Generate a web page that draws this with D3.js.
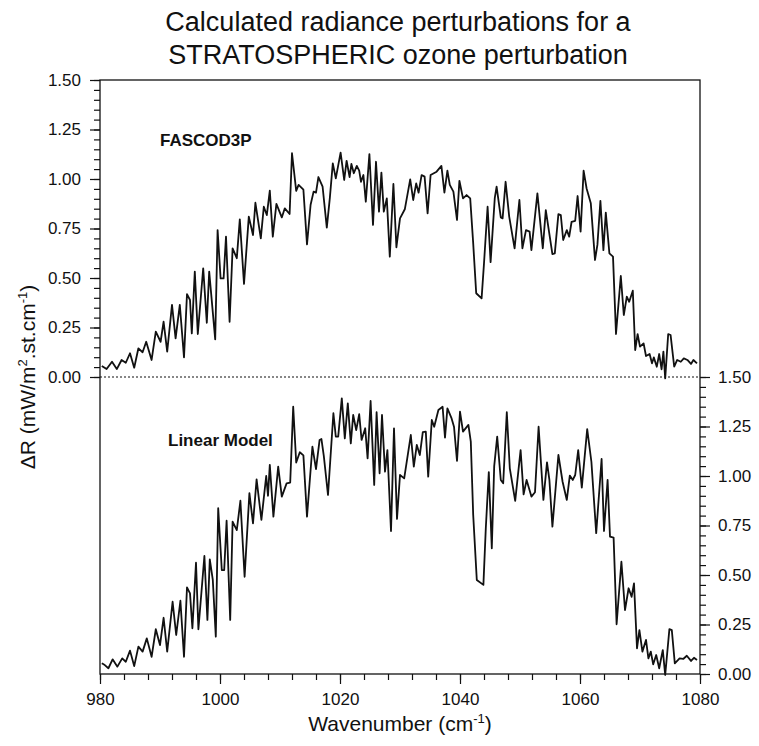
<!DOCTYPE html>
<html>
<head>
<meta charset="utf-8">
<script src="https://cdn.jsdelivr.net/npm/d3@7"></script>
<style>
  html, body { margin: 0; padding: 0; background: #fff; }
  svg { display: block; }
  text { font-family: "Liberation Sans", Arial, Helvetica, sans-serif; fill: #111; }
</style>
</head>
<body>
<svg id="chart" width="759" height="746"></svg>
<script>
// Wavenumber (cm-1) and radiance change ΔR for the FASCOD3P line-by-line result
const fascodWn = [
  980.3, 981.1, 982.0, 982.8, 983.6, 984.3, 985.0, 985.7, 986.4, 987.1,
  987.7, 988.6, 989.3, 990.1, 990.6, 991.2, 992.0, 992.6, 993.3, 994.0,
  994.5, 995.0, 995.3, 995.8, 996.3, 997.2, 997.8, 998.2, 999.2, 999.6,
  1000.1, 1000.6, 1001.0, 1001.6, 1002.1, 1002.8, 1003.3, 1004.0, 1004.8, 1005.5,
  1005.9, 1006.8, 1007.3, 1007.8, 1008.3, 1008.8, 1009.4, 1010.3, 1010.8, 1011.6,
  1012.0, 1012.7, 1013.1, 1013.9, 1014.5, 1015.1, 1015.6, 1016.0, 1016.4, 1017.1,
  1017.8, 1018.3, 1018.8, 1019.3, 1020.1, 1020.7, 1021.1, 1021.6, 1021.9, 1022.3,
  1022.8, 1023.2, 1023.5, 1023.9, 1024.3, 1024.9, 1025.5, 1026.0, 1026.5, 1026.9,
  1027.3, 1027.8, 1028.3, 1028.9, 1029.4, 1030.0, 1030.8, 1031.7, 1032.2, 1032.7,
  1033.1, 1033.6, 1034.1, 1034.6, 1035.1, 1036.1, 1036.9, 1037.4, 1037.9, 1038.3,
  1038.9, 1039.5, 1039.9, 1040.5, 1041.1, 1041.7, 1042.2, 1042.7, 1043.6, 1044.0,
  1044.6, 1045.1, 1045.8, 1046.1, 1046.8, 1047.1, 1047.6, 1048.2, 1049.1, 1049.9,
  1050.4, 1051.0, 1051.6, 1051.9, 1052.9, 1053.8, 1054.3, 1055.4, 1055.8, 1056.4,
  1056.8, 1057.2, 1057.8, 1058.2, 1058.6, 1059.2, 1059.6, 1060.1, 1060.6, 1061.1,
  1061.8, 1062.5, 1062.9, 1063.4, 1063.9, 1064.3, 1064.9, 1065.5, 1066.0, 1066.8,
  1067.3, 1067.8, 1068.2, 1068.8, 1069.2, 1069.6, 1070.0, 1070.6, 1071.0, 1071.6,
  1072.0, 1072.3, 1072.8, 1073.2, 1073.6, 1073.9, 1074.2, 1074.7, 1075.1, 1075.7,
  1076.2, 1076.8, 1077.3, 1077.9, 1078.5, 1078.9, 1079.5
];
const fascodDR = [
  0.056, 0.040, 0.077, 0.040, 0.086, 0.072, 0.120, 0.047, 0.145, 0.125,
  0.178, 0.086, 0.229, 0.178, 0.279, 0.128, 0.364, 0.195, 0.364, 0.099,
  0.419, 0.389, 0.220, 0.532, 0.217, 0.549, 0.274, 0.532, 0.190, 0.742,
  0.498, 0.498, 0.709, 0.279, 0.650, 0.600, 0.796, 0.470, 0.810, 0.717,
  0.880, 0.700, 0.860, 0.818, 0.941, 0.709, 0.874, 0.806, 0.852, 0.823,
  1.130, 0.940, 0.970, 0.946, 0.670, 0.870, 0.936, 0.931, 1.010, 0.961,
  0.754, 0.902, 1.079, 1.003, 1.133, 0.995, 1.092, 1.010, 1.076, 1.029,
  1.066, 1.042, 0.986, 1.020, 0.885, 1.126, 0.768, 1.087, 0.835, 1.032,
  0.835, 0.902, 0.608, 0.975, 0.655, 0.801, 0.847, 0.998, 0.894, 0.978,
  0.931, 1.020, 1.012, 0.826, 1.020, 1.037, 1.066, 0.931, 1.042, 0.970,
  0.936, 0.793, 0.991, 0.902, 0.919, 0.902, 0.675, 0.423, 0.397, 0.574,
  0.860, 0.580, 0.905, 0.961, 0.806, 0.801, 0.986, 0.810, 0.650, 0.894,
  0.650, 0.742, 0.734, 0.641, 0.927, 0.650, 0.843, 0.621, 0.624, 0.823,
  0.818, 0.692, 0.742, 0.709, 0.784, 0.789, 0.914, 0.734, 1.042, 0.952,
  0.877, 0.591, 0.667, 0.890, 0.641, 0.830, 0.624, 0.608, 0.217, 0.510,
  0.313, 0.406, 0.380, 0.436, 0.136, 0.217, 0.153, 0.170, 0.106, 0.116,
  0.069, 0.099, 0.052, 0.116, 0.039, 0.128, -0.007, 0.217, 0.212, 0.052,
  0.086, 0.077, 0.094, 0.086, 0.066, 0.086, 0.069
];

// Wavenumber (cm-1) and radiance change ΔR from the linear model
const linearWn = [
  980.3, 980.8, 981.4, 982.1, 982.9, 983.7, 984.3, 985.0, 985.7, 986.4,
  987.1, 987.8, 988.6, 989.3, 990.0, 990.6, 991.2, 992.1, 992.7, 993.4,
  994.0, 994.5, 995.0, 995.4, 996.0, 996.4, 997.4, 997.9, 998.3, 998.8,
  999.3, 999.7, 1000.3, 1000.7, 1001.1, 1001.7, 1002.1, 1002.8, 1003.4, 1004.1,
  1004.9, 1005.5, 1006.1, 1006.9, 1007.7, 1008.0, 1008.3, 1008.9, 1009.7, 1010.3,
  1011.1, 1011.7, 1012.2, 1012.7, 1013.3, 1013.9, 1014.5, 1015.4, 1016.0, 1016.6,
  1016.9, 1017.3, 1018.0, 1018.9, 1019.3, 1019.7, 1020.3, 1020.8, 1021.3, 1021.8,
  1022.2, 1022.7, 1023.2, 1023.6, 1024.2, 1024.6, 1025.1, 1025.7, 1026.1, 1026.6,
  1027.0, 1027.5, 1027.9, 1028.5, 1029.0, 1029.5, 1030.0, 1030.7, 1031.8, 1032.3,
  1032.8, 1033.3, 1033.8, 1034.3, 1034.7, 1035.3, 1035.7, 1036.4, 1037.1, 1037.5,
  1037.9, 1038.6, 1039.0, 1039.5, 1040.0, 1040.5, 1041.4, 1041.8, 1042.2, 1042.8,
  1043.9, 1044.3, 1044.8, 1045.3, 1045.7, 1046.2, 1046.8, 1047.2, 1047.8, 1048.3,
  1049.2, 1050.1, 1050.6, 1051.1, 1051.9, 1052.5, 1053.1, 1053.9, 1054.5, 1054.9,
  1055.4, 1056.4, 1057.1, 1057.8, 1058.3, 1058.8, 1059.2, 1059.7, 1060.3, 1061.2,
  1061.9, 1062.7, 1063.6, 1064.0, 1064.6, 1065.0, 1065.6, 1066.1, 1066.9, 1067.5,
  1068.1, 1068.6, 1069.0, 1069.5, 1069.9, 1070.4, 1071.0, 1071.4, 1071.8, 1072.2,
  1072.7, 1073.2, 1073.8, 1074.2, 1074.9, 1075.3, 1075.8, 1076.6, 1077.2, 1077.8,
  1078.5, 1079.0, 1079.5
];
const linearDR = [
  0.054, 0.045, 0.029, 0.074, 0.037, 0.079, 0.062, 0.118, 0.040, 0.138,
  0.113, 0.180, 0.087, 0.226, 0.146, 0.284, 0.113, 0.365, 0.197, 0.370,
  0.087, 0.438, 0.407, 0.231, 0.562, 0.226, 0.596, 0.273, 0.579, 0.475,
  0.189, 0.837, 0.525, 0.525, 0.774, 0.273, 0.769, 0.727, 0.875, 0.491,
  0.913, 0.761, 0.983, 0.778, 1.000, 0.900, 1.056, 0.795, 1.047, 0.896,
  0.963, 0.967, 1.350, 1.068, 1.120, 1.104, 0.795, 1.148, 1.035, 1.182,
  1.187, 1.102, 0.904, 1.317, 1.199, 1.199, 1.392, 1.190, 1.367, 1.165,
  1.308, 1.232, 1.312, 1.182, 1.241, 1.089, 1.379, 0.955, 1.322, 1.014,
  1.308, 1.022, 1.131, 0.722, 1.241, 0.783, 1.005, 0.988, 1.207, 1.047,
  1.157, 1.106, 1.221, 1.224, 0.997, 1.283, 1.249, 1.333, 1.350, 1.194,
  1.342, 1.291, 1.249, 1.076, 1.325, 1.224, 1.258, 1.173, 0.803, 0.475,
  0.450, 0.736, 1.020, 0.635, 1.050, 1.199, 0.980, 0.963, 1.322, 1.039,
  0.874, 1.131, 0.907, 0.980, 0.896, 0.918, 1.249, 0.879, 1.069, 0.980,
  0.744, 1.106, 0.971, 0.879, 1.002, 0.980, 1.005, 1.131, 0.941, 1.237,
  1.072, 0.711, 1.086, 0.722, 0.980, 0.694, 0.689, 0.251, 0.567, 0.323,
  0.433, 0.390, 0.458, 0.130, 0.222, 0.113, 0.172, 0.079, 0.113, 0.049,
  0.096, 0.029, 0.121, -0.005, 0.227, 0.222, 0.054, 0.079, 0.076, 0.092,
  0.066, 0.082, 0.071
];

// Axis tick values
const xMajorTicks = [980, 1000, 1020, 1040, 1060, 1080];
const yMajorTicks = [0, 0.25, 0.5, 0.75, 1.0, 1.25, 1.5];
const xDomain = [980, 1080];
const yDomain = [0, 1.5];

const titleLines = ["Calculated radiance perturbations for a", "STRATOSPHERIC ozone perturbation"];
const panelLabels = ["FASCOD3P", "Linear Model"];

const svg = d3.select("#chart");
const frame = { left: 100, right: 700, top: 80, mid: 377, bottom: 674 };

const x = d3.scaleLinear().domain(xDomain).range([frame.left, frame.right]);
const yTop = d3.scaleLinear().domain(yDomain).range([frame.mid, frame.top]);
const yBot = d3.scaleLinear().domain(yDomain).range([frame.bottom, frame.mid]);

const fmt = d3.format(".2f");
const yMinor = d3.range(0, 1.5001, 0.05);
const xMinor = d3.range(980, 1080.001, 4);

// Title
svg.append("text")
  .attr("text-anchor", "middle")
  .attr("font-size", 27)
  .selectAll("tspan").data(titleLines).join("tspan")
  .attr("x", 398).attr("y", (d, i) => 31 + i * 33)
  .text(d => d);

// Left axis (upper panel)
const gL = svg.append("g").attr("transform", `translate(${frame.left},0)`);
gL.append("g").call(d3.axisLeft(yTop).tickValues(yMinor).tickSize(6).tickFormat(""));
gL.append("g").call(d3.axisLeft(yTop).tickValues(yMajorTicks).tickSize(10).tickPadding(9).tickFormat(fmt));

// Right axis (lower panel)
const gR = svg.append("g").attr("transform", `translate(${frame.right},0)`);
gR.append("g").call(d3.axisRight(yBot).tickValues(yMinor).tickSize(6).tickFormat(""));
gR.append("g").call(d3.axisRight(yBot).tickValues(yMajorTicks).tickSize(10).tickPadding(8).tickFormat(fmt));

// Bottom axis
const gB = svg.append("g").attr("transform", `translate(0,${frame.bottom})`);
gB.append("g").call(d3.axisBottom(x).tickValues(xMinor).tickSize(6).tickFormat(""));
gB.append("g").call(d3.axisBottom(x).tickValues(xMajorTicks).tickSize(10).tickPadding(9).tickFormat(d3.format("d")));

svg.selectAll(".domain").remove();
svg.selectAll(".tick line").attr("stroke", "#111").attr("stroke-width", 1.2);
svg.selectAll(".tick text")
  .attr("font-family", "'Liberation Sans', Arial, sans-serif")
  .attr("font-size", 17).attr("fill", "#111");

// Frame
svg.append("rect")
  .attr("x", frame.left).attr("y", frame.top)
  .attr("width", frame.right - frame.left).attr("height", frame.bottom - frame.top)
  .attr("fill", "none").attr("stroke", "#111").attr("stroke-width", 1.3);

// Zero line of the upper panel
svg.append("line")
  .attr("x1", frame.left).attr("x2", frame.right)
  .attr("y1", yTop(0)).attr("y2", yTop(0))
  .attr("stroke", "#111").attr("stroke-width", 1.1)
  .attr("stroke-dasharray", "2,2");

// Spectra
const lineTop = d3.line().x(d => x(d[0])).y(d => yTop(d[1]));
const lineBot = d3.line().x(d => x(d[0])).y(d => yBot(d[1]));

svg.append("path")
  .datum(d3.zip(fascodWn, fascodDR))
  .attr("d", lineTop)
  .attr("fill", "none").attr("stroke", "#111").attr("stroke-width", 1.8)
  .attr("stroke-linejoin", "round");

svg.append("path")
  .datum(d3.zip(linearWn, linearDR))
  .attr("d", lineBot)
  .attr("fill", "none").attr("stroke", "#111").attr("stroke-width", 1.8)
  .attr("stroke-linejoin", "round");

// Panel labels
svg.append("text").attr("x", 160).attr("y", 146)
  .attr("font-size", 17).attr("font-weight", "bold").text(panelLabels[0]);
svg.append("text").attr("x", 168).attr("y", 446)
  .attr("font-size", 17).attr("font-weight", "bold").text(panelLabels[1]);

// Axis titles
const xt = svg.append("text").attr("x", 400).attr("y", 731)
  .attr("text-anchor", "middle").attr("font-size", 21);
xt.append("tspan").text("Wavenumber (cm");
xt.append("tspan").attr("font-size", 13).attr("dy", -8).text("-1");
xt.append("tspan").attr("dy", 8).text(")");

const yt = svg.append("text")
  .attr("transform", "translate(35,377) rotate(-90)")
  .attr("text-anchor", "middle").attr("font-size", 21);
yt.append("tspan").text("ΔR (mW/m");
yt.append("tspan").attr("font-size", 13).attr("dy", -8).text("2");
yt.append("tspan").attr("dy", 8).text(".st.cm");
yt.append("tspan").attr("font-size", 13).attr("dy", -8).text("-1");
yt.append("tspan").attr("dy", 8).text(")");
</script>
</body>
</html>
